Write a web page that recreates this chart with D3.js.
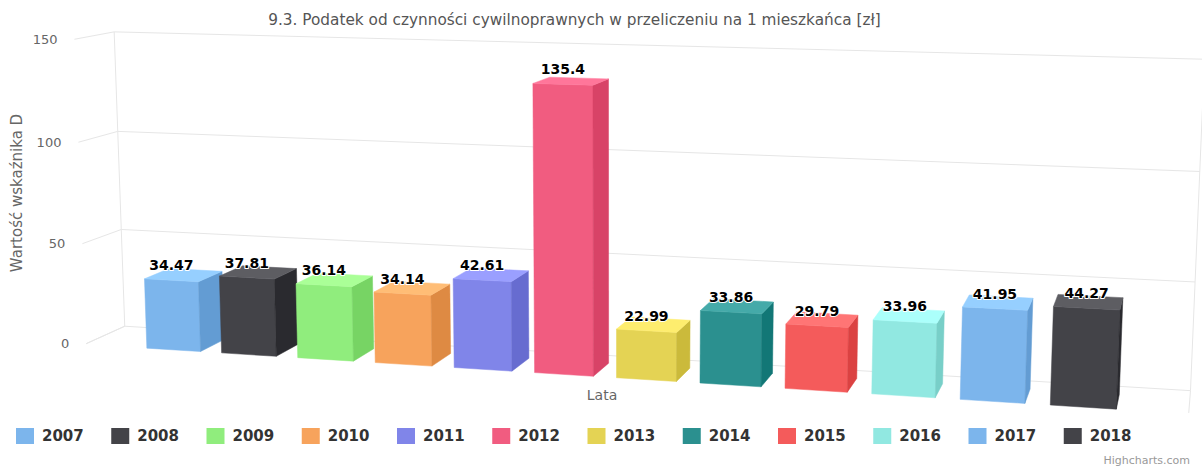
<!DOCTYPE html>
<html>
<head>
<meta charset="utf-8">
<script src="https://cdn.jsdelivr.net/npm/d3@7"></script>
<style>
  body { margin: 0; background: #fff; }
  svg { display: block; font-family: "DejaVu Sans", sans-serif; }
</style>
</head>
<body>
<svg id="chart" width="1202" height="469"></svg>
<script>
// dane
const lata    = ['2007', '2008', '2009', '2010', '2011', '2012', '2013', '2014', '2015', '2016', '2017', '2018'];
const wartosci = [34.47, 37.81, 36.14, 34.14, 42.61, 135.4, 22.99, 33.86, 29.79, 33.96, 41.95, 44.27];
const kolory  = ['#7cb5ec', '#434348', '#90ed7d', '#f7a35c', '#8085e9', '#f15c80',
                 '#e4d354', '#2b908f', '#f45b5b', '#91e8e1', '#7cb5ec', '#434348'];
const yTicks  = [0, 50, 100, 150];

const tytul     = '9.3. Podatek od czynności cywilnoprawnych w przeliczeniu na 1 mieszkańca [zł]';
const tytulY    = 'Wartość wskaźnika D';
const tytulX    = 'Lata';

const svg = d3.select('#chart');
svg.append('rect').attr('width', 1202).attr('height', 469).attr('fill', '#fff');

// pudełko 3D (świat) i rzut perspektywiczny
const W = 1124, H = 320, D = 88;
const alpha = 9.5, beta = 14.87, viewDist = 2250, skala = 1.025;
const cx = 614.5, cy = 209.3;
const rad = Math.PI / 180;
const sa = Math.sin(alpha * rad), ca = Math.cos(alpha * rad);
const sb = Math.sin(beta * rad),  cb = Math.cos(beta * rad);

function rzut(x, y, z) {
  const dx = x - W / 2, dy = y - H / 2, dz = z - D / 2;
  const rx = cb * dx + sb * dz;
  const ry = sa * sb * dx + ca * dy - cb * sa * dz;
  const rz = -ca * sb * dx + sa * dy + ca * cb * dz;
  const p = viewDist / (rz + D / 2 + viewDist);
  return [cx + rx * p * skala, cy + ry * p * skala];
}

const x = d3.scaleBand().domain(lata).range([0, W])
  .paddingInner(0.28).paddingOuter(0.81).align(0.52);
const y = d3.scaleLinear().domain([0, 150]).range([H, 0]);

const linia = d3.line();

// siatka osi Y: lewa ściana + tylna ściana
const siatka = svg.append('g').attr('fill', 'none').attr('stroke', '#e6e6e6').attr('stroke-width', 1);
yTicks.forEach(t => {
  siatka.append('path')
    .attr('d', linia([rzut(0, y(t), 0), rzut(0, y(t), D), rzut(W, y(t), D)]));
});
// siatka osi X (granice kategorii): tył + podłoga
[0, W].forEach(gx => {
  siatka.append('path')
    .attr('d', linia([rzut(gx, 0, D), rzut(gx, H, D), rzut(gx, H, 0)]));
});

// etykiety osi Y
const etykietyY = svg.append('g').attr('font-size', 13).attr('fill', '#666').attr('text-anchor', 'end');
yTicks.forEach(t => {
  const [px, py] = rzut(0, y(t), 0);
  etykietyY.append('text')
    .attr('x', px - 17)
    .attr('y', py)
    .attr('dy', '0.35em')
    .text(t);
});

// słupki
function rozjasnij(c, k) {
  const r = d3.rgb(c);
  const f = v => Math.max(0, Math.min(255, Math.round(v + 255 * k)));
  return d3.rgb(f(r.r), f(r.g), f(r.b)).toString();
}

function pole(pts) {
  let s = 0;
  for (let i = 0; i < pts.length; i++) {
    const a = pts[i], b = pts[(i + 1) % pts.length];
    s += a[0] * b[1] - b[0] * a[1];
  }
  return s / 2;
}

const glebokoscSlupka = 58, z0 = -3;
const slupki = svg.append('g');

lata.forEach((rok, i) => {
  const x0 = x(rok), x1 = x(rok) + x.bandwidth();
  const yT = y(wartosci[i]), yB = y(0);
  const za = z0, zb = z0 + glebokoscSlupka;
  const kolor = kolory[i];
  const sciany = [
    { pts: [[x0, yT, za], [x1, yT, za], [x1, yB, za], [x0, yB, za]], fill: kolor },                  // przód
    { pts: [[x1, yT, zb], [x0, yT, zb], [x0, yB, zb], [x1, yB, zb]], fill: kolor },                  // tył
    { pts: [[x1, yT, za], [x1, yT, zb], [x1, yB, zb], [x1, yB, za]], fill: rozjasnij(kolor, -0.1) }, // prawa
    { pts: [[x0, yT, zb], [x0, yT, za], [x0, yB, za], [x0, yB, zb]], fill: rozjasnij(kolor, -0.1) }, // lewa
    { pts: [[x0, yT, zb], [x1, yT, zb], [x1, yT, za], [x0, yT, za]], fill: rozjasnij(kolor, 0.1) },  // góra
    { pts: [[x0, yB, za], [x1, yB, za], [x1, yB, zb], [x0, yB, zb]], fill: kolor }                   // dół
  ];
  sciany.forEach(s => {
    const p2 = s.pts.map(p => rzut(p[0], p[1], p[2]));
    if (pole(p2) > 0) {
      slupki.append('path')
        .attr('d', linia(p2) + 'Z')
        .attr('fill', s.fill)
        .attr('stroke', s.fill)
        .attr('stroke-width', 0.5)
        .attr('stroke-linejoin', 'round');
    }
  });
});

// etykiety danych
const etykiety = svg.append('g')
  .attr('font-size', 14).attr('font-weight', 'bold').attr('text-anchor', 'middle')
  .attr('fill', '#000').attr('stroke', '#fff').attr('stroke-width', 2)
  .attr('stroke-linejoin', 'round').attr('paint-order', 'stroke');
lata.forEach((rok, i) => {
  const [px, py] = rzut(x(rok) + x.bandwidth() / 2, y(wartosci[i]), z0);
  etykiety.append('text').attr('x', px).attr('y', py - 10).text(wartosci[i]);
});

// tytuły
svg.append('text')
  .attr('x', 574.5).attr('y', 25)
  .attr('text-anchor', 'middle').attr('font-size', 15.3).attr('fill', '#555')
  .text(tytul);

svg.append('text')
  .attr('transform', 'translate(17,193) rotate(-90)')
  .attr('text-anchor', 'middle').attr('dy', '0.35em')
  .attr('font-size', 15).attr('fill', '#666')
  .text(tytulY);

svg.append('text')
  .attr('x', 602).attr('y', 400)
  .attr('text-anchor', 'middle').attr('font-size', 14).attr('fill', '#666')
  .text(tytulX);

// legenda
const legenda = svg.append('g');
lata.forEach((rok, i) => {
  const lx = 16 + i * 95.25;
  const item = legenda.append('g').attr('transform', `translate(${lx},428)`);
  item.append('rect').attr('width', 18).attr('height', 16).attr('fill', kolory[i]);
  item.append('text')
    .attr('x', 26).attr('y', 8).attr('dy', '0.35em')
    .attr('font-size', 15).attr('font-weight', 'bold').attr('fill', '#333')
    .text(rok);
});

svg.append('text')
  .attr('x', 1190).attr('y', 464)
  .attr('text-anchor', 'end').attr('font-size', 11).attr('fill', '#999')
  .text('Highcharts.com');
</script>
</body>
</html>
